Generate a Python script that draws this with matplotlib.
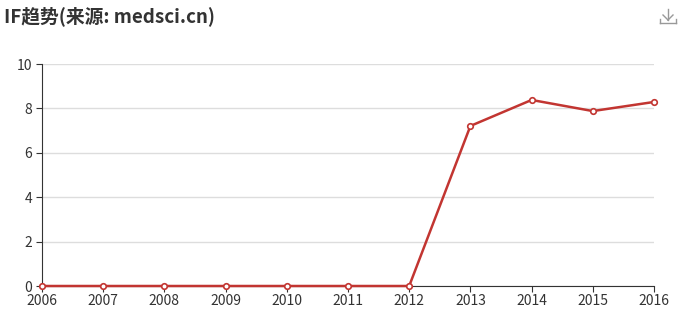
import matplotlib.pyplot as plt
from matplotlib.lines import Line2D

plt.rcParams['font.family'] = ['Noto Sans CJK SC', 'DejaVu Sans']

years = ["2006", "2007", "2008", "2009", "2010", "2011", "2012", "2013", "2014", "2015", "2016"]
impact = [0, 0, 0, 0, 0, 0, 0, 7.21, 8.38, 7.88, 8.29]

W, H = 681, 319
fig = plt.figure(figsize=(W / 100, H / 100), dpi=100)
ax = fig.add_axes([42 / W, 33 / H, 612 / W, 222 / H])

x = range(len(years))
ax.plot(x, impact, color="#c23531", linewidth=1.8, marker="o", markersize=4,
        markerfacecolor="white", markeredgecolor="#c23531", markeredgewidth=1.2,
        clip_on=False, zorder=3)

ax.set_xlim(0, len(years) - 1)
ax.set_ylim(0, 10)
ax.set_xticks(list(x))
ax.set_xticklabels(years)
ax.set_yticks([0, 2, 4, 6, 8, 10])
ax.grid(axis="y", color="#dddddd", linewidth=1)
ax.set_axisbelow(True)

for s in ["top", "right"]:
    ax.spines[s].set_visible(False)
ax.spines["left"].set_color("#333333")
ax.spines["bottom"].set_color("#333333")
ax.tick_params(colors="#333333", labelsize=10, length=4)
ax.tick_params(axis="x", pad=2)
ax.tick_params(axis="y", pad=3)
for lbl in ax.get_yticklabels():
    lbl.set_va("center_baseline")

fig.text(4 / W, 1 - 16 / H, "IF趋势(来源: medsci.cn)", fontsize=13.5, fontweight="bold",
         color="#333333", va="center", ha="left")

# download icon drawn as a shape
def px(xp, yp):
    return xp / W, 1 - yp / H

icon = "#999999"
for (x0, y0), (x1, y1) in [((668, 9), (668, 20)), ((663, 15), (668, 20)), ((673, 15), (668, 20)),
                           ((660, 19), (660, 23)), ((660, 23), (676, 23)), ((676, 23), (676, 19))]:
    a, b = px(x0, y0)
    c, d = px(x1, y1)
    fig.add_artist(Line2D([a, c], [b, d], color=icon, linewidth=1))

fig.savefig("out.png", dpi=100)
